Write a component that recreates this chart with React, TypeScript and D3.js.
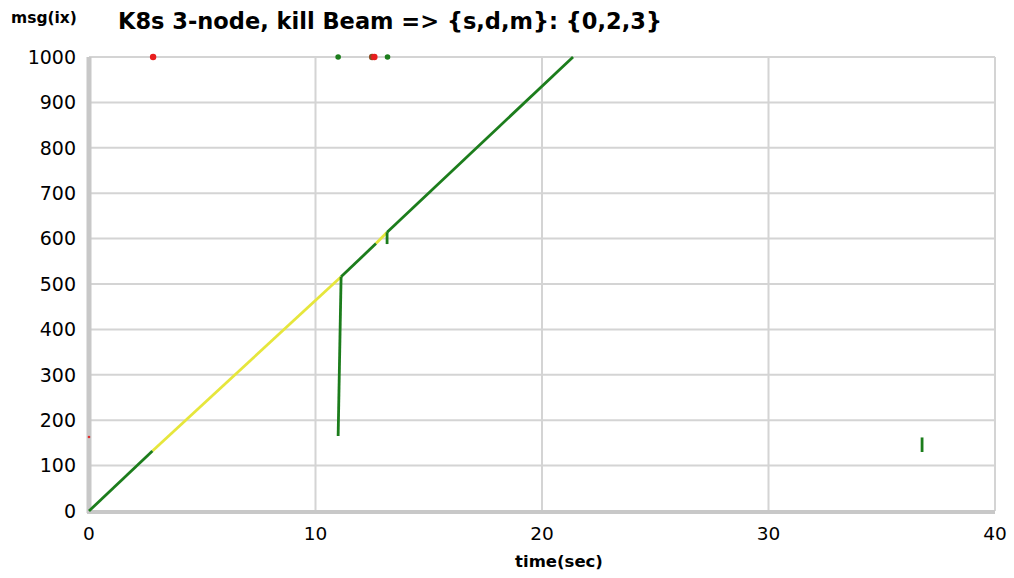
import * as React from "react";
import * as d3 from "d3";

// progress segments, [time(sec), msg index]
const greenStart = [[0, 0], [2.8, 132]];
const yellowStart = [[2.8, 132], [11.13, 516]];
const greenDrop = [[11.13, 516], [11.0, 165]];
const greenMid = [[11.13, 516], [12.67, 589]];
const yellowMid = [[12.67, 589], [13.16, 614]];
const greenTick = [[13.16, 614], [13.16, 588]];
const greenEnd = [[13.16, 614], [21.37, 1000]];
const greenLate = [[36.78, 162], [36.78, 130]];

const greenSegments = [greenStart, greenDrop, greenMid, greenTick, greenEnd, greenLate];
const yellowSegments = [yellowStart, yellowMid];

// events along the top
const redDots = [[2.83, 1000], [12.5, 1000], [12.6, 1000]];
const greenDots = [[11.0, 1000], [13.18, 1000]];
const redSmall = [[0, 163]];

const xTicks = [0, 10, 20, 30, 40];
const yTicks = [0, 100, 200, 300, 400, 500, 600, 700, 800, 900, 1000];

const W = 1014;
const H = 578;
const margin = { left: 89, right: 19, top: 57, bottom: 67 };

export default function App() {
  const x = d3.scaleLinear().domain([0, 40]).range([margin.left, W - margin.right]);
  const y = d3.scaleLinear().domain([0, 1000]).range([H - margin.bottom, margin.top]);
  const line = d3.line<number[]>().x(d => x(d[0])).y(d => y(d[1]));

  const font = "DejaVu Sans, sans-serif";
  const green = "#1c7d1c";
  const yellow = "#e6e63c";

  return (
    <svg width={W} height={H} style={{ position: "absolute", left: 0, top: 0, background: "#fff" }}>
      {/* grid */}
      {xTicks.map(t => (
        <line key={"gx" + t} x1={x(t)} x2={x(t)} y1={y(1000)} y2={y(0)} stroke="#d4d4d4" strokeWidth={2} />
      ))}
      {yTicks.map(t => (
        <line key={"gy" + t} x1={x(0)} x2={x(40)} y1={y(t)} y2={y(t)} stroke="#d4d4d4" strokeWidth={2} />
      ))}
      {/* axis bars */}
      <line x1={x(0)} x2={x(0)} y1={y(1000)} y2={y(0) + 2} stroke="#c8c8c8" strokeWidth={5} />
      <line x1={x(0) - 2} x2={x(40)} y1={y(0) + 1} y2={y(0) + 1} stroke="#c8c8c8" strokeWidth={4} />

      {/* tick labels */}
      {yTicks.map(t => (
        <text key={"ly" + t} x={x(0) - 13} y={y(t)} dy="0.36em" textAnchor="end" fontFamily={font} fontSize={19}>
          {t}
        </text>
      ))}
      {xTicks.map(t => (
        <text key={"lx" + t} x={x(t)} y={y(0) + 29} textAnchor="middle" fontFamily={font} fontSize={18.5}>
          {t}
        </text>
      ))}

      {/* series */}
      {yellowSegments.map((s, i) => (
        <path key={"ys" + i} d={line(s) || ""} fill="none" stroke={yellow} strokeWidth={2.8} />
      ))}
      {greenSegments.map((s, i) => (
        <path key={"gs" + i} d={line(s) || ""} fill="none" stroke={green} strokeWidth={2.8} />
      ))}
      {redSmall.map((d, i) => (
        <circle key={"rs" + i} cx={x(d[0])} cy={y(d[1])} r={1.3} fill="#e03030" />
      ))}
      {redDots.map((d, i) => (
        <circle key={"rd" + i} cx={x(d[0])} cy={y(d[1])} r={3.2} fill={i === 1 ? "#8a4a20" : "#e81e1e"} />
      ))}
      {greenDots.map((d, i) => (
        <circle key={"gd" + i} cx={x(d[0])} cy={y(d[1])} r={2.8} fill={green} />
      ))}

      {/* titles */}
      <text x={118} y={29} fontFamily={font} fontWeight="bold" fontSize={22.5}>
        K8s 3-node, kill Beam =&gt; {"{s,d,m}: {0,2,3}"}
      </text>
      <text x={11} y={23} fontFamily={font} fontWeight="bold" fontSize={15.5}>
        msg(ix)
      </text>
      <text x={559} y={567} textAnchor="middle" fontFamily={font} fontWeight="bold" fontSize={16.5}>
        time(sec)
      </text>
    </svg>
  );
}
